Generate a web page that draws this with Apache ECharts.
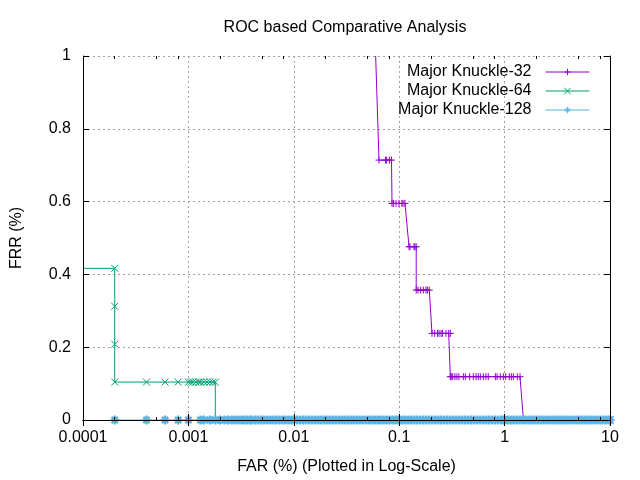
<!DOCTYPE html>
<html>
<head>
<meta charset="utf-8">
<script src="https://cdn.jsdelivr.net/npm/echarts@6/dist/echarts.min.js"></script>
<style>
  html, body { margin: 0; padding: 0; background: #fff; }
  #roc { width: 640px; height: 480px; }
</style>
</head>
<body>
<div id="roc"></div>
<script>
// FAR (%) / FRR pairs; the first pair of 32 and 64 is where the curve enters the frame
var mk32 = [
    [0.0598, 1.0],
    [0.0643, 0.714], [0.0741, 0.714], [0.0760, 0.714], [0.0808, 0.714], [0.0845, 0.714],
    [0.0855, 0.595], [0.0884, 0.595], [0.0933, 0.595], [0.0996, 0.595], [0.106, 0.595], [0.1087, 0.595], [0.1135, 0.595],
    [0.124, 0.476], [0.1265, 0.476], [0.138, 0.476], [0.141, 0.476], [0.145, 0.476],
    [0.145, 0.357], [0.1507, 0.357], [0.160, 0.357], [0.1694, 0.357], [0.1796, 0.357], [0.185, 0.357], [0.193, 0.357],
    [0.2047, 0.238], [0.2172, 0.238], [0.2308, 0.238], [0.2386, 0.238], [0.2494, 0.238], [0.2577, 0.238], [0.278, 0.238], [0.295, 0.238], [0.3055, 0.238],
    [0.3055, 0.119], [0.312, 0.119], [0.322, 0.119], [0.338, 0.119], [0.353, 0.119], [0.369, 0.119], [0.406, 0.119],
    [0.424, 0.119], [0.467, 0.119], [0.505, 0.119], [0.536, 0.119], [0.562, 0.119], [0.588, 0.119], [0.628, 0.119],
    [0.665, 0.119], [0.700, 0.119], [0.817, 0.119], [0.848, 0.119], [0.910, 0.119], [0.973, 0.119], [1.024, 0.119],
    [1.109, 0.119], [1.159, 0.119], [1.21, 0.119], [1.321, 0.119], [1.40, 0.119],
    [1.51, 0], [2.5, 0], [5, 0], [10, 0]
];
var mk64 = [
    [0.0001, 0.4167], [0.0002, 0.4167], [0.0002, 0.3125], [0.0002, 0.2083], [0.0002, 0.1042],
    [0.0004, 0.1042], [0.0006, 0.1042], [0.0008, 0.1042], [0.001, 0.1042], [0.00105, 0.1042], [0.0011, 0.1042],
    [0.00118, 0.1042], [0.00125, 0.1042], [0.0013, 0.1042], [0.0014, 0.1042], [0.0015, 0.1042], [0.0016, 0.1042],
    [0.0017, 0.1042], [0.0018, 0.1042],
    [0.0018, 0], [0.0034, 0], [0.0035, 0], [0.0036, 0], [0.0037, 0], [0.025, 0], [0.055, 0],
    [0.069, 0], [0.070, 0], [0.071, 0], [0.072, 0], [0.1, 0], [10, 0]
];
var mk128 = [
    [0.0002, 0], [0.0004, 0], [0.0006, 0], [0.0008, 0], [0.001, 0], [0.0013, 0], [0.0014, 0], [0.0016, 0],
    [0.0018, 0], [0.002, 0], [0.0022, 0], [0.0024, 0], [0.0026, 0], [0.0028, 0], [0.003, 0], [0.0032, 0],
    [0.0034, 0], [0.0036, 0], [0.0038, 0], [0.004, 0], [0.0043, 0], [0.0046, 0], [0.0049, 0], [0.0052, 0],
    [0.0056, 0], [0.006, 0], [0.0064, 0], [0.0068, 0], [0.0073, 0], [0.0078, 0], [0.0083, 0], [0.0089, 0], [0.0095, 0],
    [0.0100, 0], [0.0107, 0], [0.0114, 0], [0.0122, 0], [0.0130, 0], [0.0139, 0], [0.0148, 0], [0.0158, 0], [0.0169, 0],
    [0.0180, 0], [0.0192, 0], [0.0205, 0], [0.0219, 0], [0.0234, 0], [0.0250, 0], [0.0267, 0], [0.0285, 0], [0.0304, 0],
    [0.0325, 0], [0.0347, 0], [0.0370, 0], [0.0395, 0], [0.0422, 0], [0.0450, 0], [0.0480, 0], [0.0513, 0], [0.0547, 0],
    [0.0584, 0], [0.0624, 0], [0.0666, 0], [0.0710, 0], [0.0759, 0], [0.0810, 0], [0.0865, 0], [0.0923, 0], [0.0985, 0],
    [0.100, 0], [0.107, 0], [0.114, 0], [0.122, 0], [0.130, 0], [0.139, 0], [0.148, 0], [0.158, 0], [0.169, 0],
    [0.180, 0], [0.192, 0], [0.205, 0], [0.219, 0], [0.234, 0], [0.250, 0], [0.267, 0], [0.285, 0], [0.304, 0],
    [0.325, 0], [0.347, 0], [0.370, 0], [0.395, 0], [0.422, 0], [0.450, 0], [0.480, 0], [0.513, 0], [0.547, 0],
    [0.584, 0], [0.624, 0], [0.666, 0], [0.710, 0], [0.759, 0], [0.810, 0], [0.865, 0], [0.923, 0], [0.985, 0],
    [1.00, 0], [1.07, 0], [1.14, 0], [1.22, 0], [1.30, 0], [1.39, 0], [1.48, 0], [1.58, 0], [1.69, 0],
    [1.80, 0], [1.92, 0], [2.05, 0], [2.19, 0], [2.34, 0], [2.50, 0], [2.67, 0], [2.85, 0], [3.04, 0],
    [3.25, 0], [3.47, 0], [3.70, 0], [3.95, 0], [4.22, 0], [4.50, 0], [4.80, 0], [5.13, 0], [5.47, 0],
    [5.84, 0], [6.24, 0], [6.66, 0], [7.10, 0], [7.59, 0], [8.10, 0], [8.65, 0], [9.23, 0], [9.85, 0], [10, 0]
];
var seriesNames = ['Major Knuckle-32', 'Major Knuckle-64', 'Major Knuckle-128'];
var xMinorTicks = [0.0002, 0.0005, 0.0008, 0.002, 0.005, 0.008, 0.02, 0.05, 0.08, 0.2, 0.5, 0.8, 2, 5, 8];

var FONT = 'Liberation Sans';
var plusPath = 'path://M0,5L10,5M5,0L5,10';
var crossPath = 'path://M0,0L10,10M0,10L10,0';
var starPath = 'path://M0,5L10,5M5,0L5,10M1.5,1.5L8.5,8.5M1.5,8.5L8.5,1.5';

// plot frame: x 83..610 (1e-4..10), y 56..420 (1..0)
var gridBox = { left: 83, right: 30, top: 56, bottom: 60 };
// the data grid reaches PAD px past the bottom and right edges so markers sitting
// on the frame are not cut; its ranges are stretched to keep the same scale
var PAD = 5;
var dataBox = { left: 83, right: 30 - PAD, top: 56, bottom: 60 - PAD };
var dataXMax = Math.pow(10, 1 + PAD * 5 / 527);
var dataYMin = -PAD / 364;

function frameX(grid, pos, ticks, len, showLine) {
    var tick = { show: true, inside: true, length: len, lineStyle: { color: '#000' } };
    if (ticks) tick.customValues = ticks;
    return {
        gridIndex: grid, type: 'log', logBase: 10, min: 0.0001, max: 10, position: pos, z: 10,
        axisLine: { show: showLine, lineStyle: { color: '#000', width: 1 } },
        axisTick: tick, axisLabel: { show: false }, splitLine: { show: false }
    };
}
function frameY(grid, pos) {
    return {
        gridIndex: grid, type: 'value', min: 0, max: 1, interval: 0.2, position: pos, z: 10,
        axisLine: { show: true, lineStyle: { color: '#000', width: 1 } },
        axisTick: { show: true, inside: true, length: 6, lineStyle: { color: '#000' } },
        axisLabel: { show: false }, splitLine: { show: false }
    };
}

// entry point of a curve at the frame edge carries no marker
function toItems(pairs, entersAtEdge) {
    return pairs.map(function (p, i) {
        return (entersAtEdge && i === 0) ? { value: p, symbol: 'none' } : p;
    });
}

function mkSeries(idx, data, color, symbol, z, size, stroke) {
    return {
        name: seriesNames[idx], type: 'line', data: data, z: z, clip: false,
        xAxisIndex: 3, yAxisIndex: 3,
        symbol: symbol, symbolSize: size, showSymbol: true, animation: false,
        lineStyle: { color: color, width: 1 },
        itemStyle: { color: color, borderColor: color, borderWidth: stroke },
        emphasis: { disabled: true }
    };
}

var dashed = { color: '#a0a0a0', width: 1, type: [2, 3] };
var chart = echarts.init(document.getElementById('roc'));
var option = {
    backgroundColor: '#fff',
    animation: false,
    title: {
        text: 'ROC based Comparative Analysis', left: 340, top: 15, textAlign: 'center',
        textStyle: { fontFamily: FONT, fontSize: 16, fontWeight: 'normal', color: '#000' }
    },
    legend: {
        data: seriesNames, orient: 'vertical', align: 'right', right: 50, top: 64, padding: 0,
        itemWidth: 44, itemHeight: 8, itemGap: 3,
        lineStyle: { width: 1 },
        itemStyle: { borderWidth: 1 },
        textStyle: { fontFamily: FONT, fontSize: 16, color: '#000', lineHeight: 16, padding: [0, 9, 0, 0] }
    },
    grid: [gridBox, gridBox, gridBox, dataBox],
    xAxis: [
        {
            gridIndex: 0, type: 'log', logBase: 10, min: 0.0001, max: 10, position: 'bottom',
            name: 'FAR (%) (Plotted in Log-Scale)', nameLocation: 'middle', nameGap: 39,
            nameTextStyle: { fontFamily: FONT, fontSize: 16, color: '#000' },
            axisLine: { show: false }, axisTick: { show: false },
            axisLabel: { fontFamily: FONT, fontSize: 16, color: '#000', margin: 10,
                formatter: function (v) { return String(+(+v).toPrecision(3)); } },
            splitLine: { show: true, lineStyle: dashed }
        },
        frameX(1, 'bottom', null, 6, true),
        frameX(1, 'top', null, 6, true),
        { gridIndex: 3, type: 'log', logBase: 10, min: 0.0001, max: dataXMax, show: false },
        frameX(2, 'bottom', xMinorTicks, 3, false),
        frameX(2, 'top', xMinorTicks, 3, false)
    ],
    yAxis: [
        {
            gridIndex: 0, type: 'value', min: 0, max: 1, interval: 0.2,
            name: 'FRR (%)', nameLocation: 'middle', nameGap: 58, nameRotate: 90,
            nameTextStyle: { fontFamily: FONT, fontSize: 16, color: '#000' },
            axisLine: { show: false }, axisTick: { show: false },
            axisLabel: { fontFamily: FONT, fontSize: 16, color: '#000', margin: 12 },
            splitLine: { show: true, lineStyle: dashed }
        },
        frameY(1, 'left'),
        frameY(1, 'right'),
        { gridIndex: 3, type: 'value', min: dataYMin, max: 1, show: false },
        { gridIndex: 2, type: 'value', min: 0, max: 1, show: false }
    ],
    series: [
        mkSeries(0, toItems(mk32, true), '#9400d3', plusPath, 2, 7, 1),
        mkSeries(1, toItems(mk64, true), '#009e73', crossPath, 3, 7, 1),
        mkSeries(2, toItems(mk128, false), '#56b4e9', starPath, 5, 9, 2.2)
    ]
};
chart.setOption(option);
</script>
</body>
</html>
